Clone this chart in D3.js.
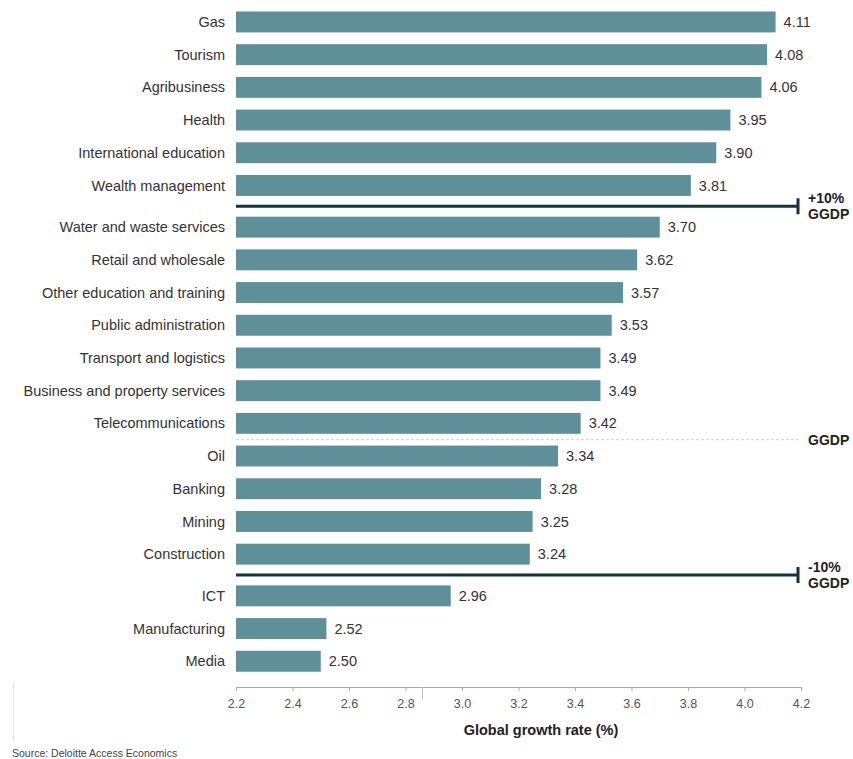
<!DOCTYPE html>
<html>
<head>
<meta charset="utf-8">
<script src="https://cdn.jsdelivr.net/npm/d3@7"></script>
<style>
  body { margin: 0; background: #fff; }
  svg text { font-family: "Liberation Sans", Arial, sans-serif; }
</style>
</head>
<body>
<div id="bar-chart"></div>
<script>
// Data
const categories = [
    "Gas", "Tourism", "Agribusiness", "Health", "International education",
    "Wealth management", "Water and waste services", "Retail and wholesale",
    "Other education and training", "Public administration",
    "Transport and logistics", "Business and property services",
    "Telecommunications", "Oil", "Banking", "Mining", "Construction",
    "ICT", "Manufacturing", "Media"
];
const growthRates = [
    4.11, 4.08, 4.06, 3.95, 3.90, 3.81, 3.70, 3.62, 3.57, 3.53,
    3.49, 3.49, 3.42, 3.34, 3.28, 3.25, 3.24, 2.96, 2.52, 2.50
];
const xTicks = [2.2, 2.4, 2.6, 2.8, 3.0, 3.2, 3.4, 3.6, 3.8, 4.0, 4.2];
// reference lines drawn under these categories
const refLines = [
    { after: "Wealth management", label: ["+10%", "GGDP"], kind: "solid" },
    { after: "Telecommunications", label: ["GGDP"], kind: "dotted" },
    { after: "Construction", label: ["-10%", "GGDP"], kind: "solid" }
];
const groupStarts = ["Water and waste services", "ICT"]; // extra gap before these

const svgWidth = 853;
const svgHeight = 759;

const svg = d3.select("#bar-chart")
    .append("svg")
    .attr("width", svgWidth)
    .attr("height", svgHeight);

// Scales
const xScale = d3.scaleLinear()
    .domain([2.2, 4.2])
    .range([236, 801]);

const step = 32.7;
const extraGap = 9;
const yBand = d3.scaleBand()
    .domain(categories)
    .range([5.6, 5.6 + step * categories.length])
    .paddingInner(0.36)
    .paddingOuter(0.18);

// group index -> shift rows down after the thick lines
function groupOf(cat) {
    const i = categories.indexOf(cat);
    return groupStarts.filter(g => categories.indexOf(g) <= i).length;
}
const y = cat => yBand(cat) + groupOf(cat) * extraGap;
const barH = yBand.bandwidth();

// Bars
svg.selectAll(".bar")
    .data(categories)
    .enter().append("rect")
    .attr("class", "bar")
    .attr("x", xScale(2.2))
    .attr("y", d => y(d))
    .attr("width", (d, i) => xScale(growthRates[i]) - xScale(2.2))
    .attr("height", barH)
    .attr("fill", "#5f8f99");

// Category labels
svg.selectAll(".cat")
    .data(categories)
    .enter().append("text")
    .attr("x", 225)
    .attr("y", d => y(d) + barH / 2)
    .attr("dy", "0.35em")
    .attr("text-anchor", "end")
    .attr("font-size", 14.5)
    .attr("fill", "#333")
    .text(d => d);

// Value labels
svg.selectAll(".val")
    .data(categories)
    .enter().append("text")
    .attr("x", (d, i) => xScale(growthRates[i]) + 8)
    .attr("y", d => y(d) + barH / 2)
    .attr("dy", "0.35em")
    .attr("font-size", 14.5)
    .attr("fill", "#333")
    .text((d, i) => growthRates[i].toFixed(2));

// Reference lines
refLines.forEach(r => {
    const i = categories.indexOf(r.after);
    const next = categories[i + 1];
    const ly = (y(r.after) + barH + y(next)) / 2;
    const x0 = xScale(2.2), x1 = xScale(4.2) - 3;
    if (r.kind === "solid") {
        svg.append("line")
            .attr("x1", x0).attr("x2", x1)
            .attr("y1", ly).attr("y2", ly)
            .attr("stroke", "#12343b")
            .attr("stroke-width", 3);
        svg.append("line")
            .attr("x1", x1).attr("x2", x1)
            .attr("y1", ly - 8).attr("y2", ly + 8)
            .attr("stroke", "#12343b")
            .attr("stroke-width", 3);
    } else {
        svg.append("line")
            .attr("x1", x0).attr("x2", x1)
            .attr("y1", ly).attr("y2", ly)
            .attr("stroke", "#c9d2d2")
            .attr("stroke-width", 1)
            .attr("stroke-dasharray", "3,2");
    }
    const t = svg.append("text")
        .attr("x", 808)
        .attr("y", r.label.length > 1 ? ly - 8 : ly)
        .attr("font-size", 14)
        .attr("font-weight", "bold")
        .attr("fill", "#222");
    r.label.forEach((s, k) => {
        t.append("tspan")
            .attr("x", 808)
            .attr("dy", k === 0 ? "0.35em" : "1.15em")
            .text(s);
    });
});

// X axis
const axisY = 687;
const xAxis = svg.append("g")
    .attr("transform", `translate(0,${axisY})`)
    .call(d3.axisBottom(xScale).tickValues(xTicks).tickSize(4).tickPadding(8)
        .tickFormat(d3.format(".1f")));
xAxis.select(".domain").attr("stroke", "#aaa");
xAxis.selectAll(".tick line").attr("stroke", "#aaa");
xAxis.selectAll(".tick text")
    .attr("font-size", 12.5)
    .attr("fill", "#555")
    .attr("font-family", "\"Liberation Sans\", Arial, sans-serif");

// odd separator tick on the axis
svg.append("line")
    .attr("x1", xScale(2.86)).attr("x2", xScale(2.86))
    .attr("y1", axisY).attr("y2", axisY + 12)
    .attr("stroke", "#bbb");

// Axis title
svg.append("text")
    .attr("x", 541)
    .attr("y", 735)
    .attr("text-anchor", "middle")
    .attr("font-size", 14.5)
    .attr("font-weight", "bold")
    .attr("fill", "#222")
    .text("Global growth rate (%)");

// faint frame line at the left
svg.append("line")
    .attr("x1", 13.5).attr("x2", 13.5)
    .attr("y1", 683).attr("y2", 742)
    .attr("stroke", "#e2e2e2");

// Source
svg.append("text")
    .attr("x", 12)
    .attr("y", 757)
    .attr("font-size", 10.5)
    .attr("fill", "#444")
    .text("Source: Deloitte Access Economics");
</script>
</body>
</html>
